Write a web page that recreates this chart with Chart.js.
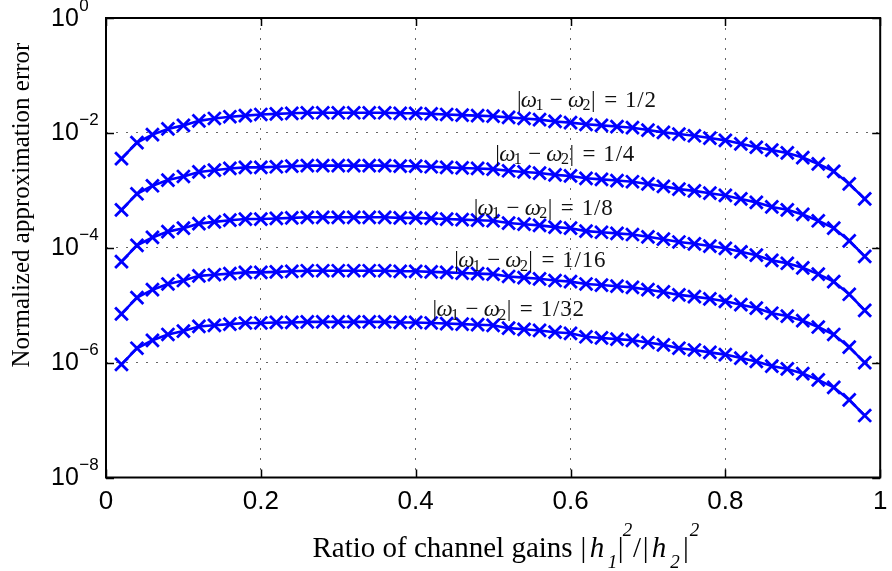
<!DOCTYPE html>
<html>
<head>
<meta charset="utf-8">
<script src="https://cdn.jsdelivr.net/npm/chart.js@4/dist/chart.umd.min.js"></script>
<style>
  html, body { margin: 0; padding: 0; background: #fff; }
  #wrap { width: 892px; height: 571px; }
  canvas { display: block; }
</style>
</head>
<body>
<div id="wrap"><canvas id="chart" width="892" height="571" style="width:892px;height:571px"></canvas></div>
<script>
// Ratio of channel gains |h1|^2/|h2|^2 (x axis)
const ratio = [0.02, 0.04, 0.06, 0.08, 0.10, 0.12, 0.14, 0.16, 0.18, 0.20,
               0.22, 0.24, 0.26, 0.28, 0.30, 0.32, 0.34, 0.36, 0.38, 0.40,
               0.42, 0.44, 0.46, 0.48, 0.50, 0.52, 0.54, 0.56, 0.58, 0.60,
               0.62, 0.64, 0.66, 0.68, 0.70, 0.72, 0.74, 0.76, 0.78, 0.80,
               0.82, 0.84, 0.86, 0.88, 0.90, 0.92, 0.94, 0.96, 0.98];

// Normalized approximation error for |w1 - w2| = 1/2
const errHalf = [3.55e-3, 6.76e-3, 9.33e-3, 1.17e-2, 1.35e-2, 1.62e-2, 1.78e-2, 1.91e-2, 2.00e-2, 2.09e-2,
                 2.14e-2, 2.19e-2, 2.24e-2, 2.24e-2, 2.24e-2, 2.24e-2, 2.24e-2, 2.24e-2, 2.19e-2, 2.19e-2,
                 2.14e-2, 2.09e-2, 2.04e-2, 2.00e-2, 1.95e-2, 1.86e-2, 1.78e-2, 1.70e-2, 1.58e-2, 1.51e-2,
                 1.41e-2, 1.35e-2, 1.29e-2, 1.23e-2, 1.12e-2, 1.02e-2, 9.55e-3, 8.91e-3, 8.13e-3, 7.41e-3,
                 6.46e-3, 5.62e-3, 5.01e-3, 4.47e-3, 3.72e-3, 2.88e-3, 2.14e-3, 1.29e-3, 7.08e-4];

// |w1 - w2| = 1/4
const errQuarter = [4.57e-4, 8.71e-4, 1.20e-3, 1.51e-3, 1.74e-3, 2.09e-3, 2.24e-3, 2.40e-3, 2.51e-3, 2.51e-3,
                    2.57e-3, 2.63e-3, 2.69e-3, 2.69e-3, 2.69e-3, 2.69e-3, 2.69e-3, 2.69e-3, 2.63e-3, 2.63e-3,
                    2.57e-3, 2.51e-3, 2.45e-3, 2.40e-3, 2.34e-3, 2.19e-3, 2.09e-3, 2.00e-3, 1.86e-3, 1.78e-3,
                    1.62e-3, 1.55e-3, 1.48e-3, 1.41e-3, 1.29e-3, 1.17e-3, 1.05e-3, 9.77e-4, 8.91e-4, 8.13e-4,
                    7.08e-4, 6.17e-4, 5.13e-4, 4.57e-4, 3.80e-4, 2.95e-4, 2.19e-4, 1.32e-4, 7.08e-5];

// |w1 - w2| = 1/8
const errEighth = [5.75e-5, 1.10e-4, 1.51e-4, 1.91e-4, 2.19e-4, 2.63e-4, 2.82e-4, 3.02e-4, 3.16e-4, 3.16e-4,
                   3.24e-4, 3.31e-4, 3.39e-4, 3.39e-4, 3.39e-4, 3.39e-4, 3.39e-4, 3.39e-4, 3.31e-4, 3.31e-4,
                   3.24e-4, 3.16e-4, 3.09e-4, 3.02e-4, 2.95e-4, 2.69e-4, 2.57e-4, 2.45e-4, 2.29e-4, 2.19e-4,
                   1.95e-4, 1.86e-4, 1.78e-4, 1.70e-4, 1.55e-4, 1.41e-4, 1.26e-4, 1.17e-4, 1.07e-4, 9.77e-5,
                   8.51e-5, 7.41e-5, 6.03e-5, 5.37e-5, 4.47e-5, 3.47e-5, 2.57e-5, 1.55e-5, 8.13e-6];

// |w1 - w2| = 1/16
const errSixteenth = [7.08e-6, 1.35e-5, 1.86e-5, 2.34e-5, 2.69e-5, 3.24e-5, 3.39e-5, 3.55e-5, 3.72e-5, 3.72e-5,
                      3.80e-5, 3.89e-5, 3.98e-5, 3.98e-5, 3.98e-5, 3.98e-5, 3.98e-5, 3.98e-5, 3.89e-5, 3.89e-5,
                      3.80e-5, 3.72e-5, 3.63e-5, 3.55e-5, 3.47e-5, 3.16e-5, 3.02e-5, 2.88e-5, 2.69e-5, 2.57e-5,
                      2.34e-5, 2.24e-5, 2.14e-5, 2.04e-5, 1.86e-5, 1.70e-5, 1.51e-5, 1.41e-5, 1.29e-5, 1.17e-5,
                      1.02e-5, 8.91e-6, 7.24e-6, 6.46e-6, 5.37e-6, 4.17e-6, 3.09e-6, 1.86e-6, 1.00e-6];

// |w1 - w2| = 1/32
const errThirtySecond = [9.33e-7, 1.78e-6, 2.45e-6, 3.09e-6, 3.55e-6, 4.27e-6, 4.47e-6, 4.68e-6, 4.90e-6, 4.90e-6,
                         5.01e-6, 5.01e-6, 5.13e-6, 5.13e-6, 5.13e-6, 5.13e-6, 5.13e-6, 5.13e-6, 5.01e-6, 5.01e-6,
                         4.90e-6, 4.79e-6, 4.68e-6, 4.57e-6, 4.47e-6, 3.98e-6, 3.80e-6, 3.63e-6, 3.39e-6, 3.24e-6,
                         2.82e-6, 2.69e-6, 2.57e-6, 2.45e-6, 2.24e-6, 2.04e-6, 1.78e-6, 1.66e-6, 1.51e-6, 1.38e-6,
                         1.20e-6, 1.05e-6, 8.71e-7, 7.76e-7, 6.46e-7, 5.01e-7, 3.72e-7, 2.24e-7, 1.20e-7];

const series = [errHalf, errQuarter, errEighth, errSixteenth, errThirtySecond];

// Curve annotations: fraction text, anchor (left edge x, baseline value)
const labelFrac = ['1/2', '1/4', '1/8', '1/16', '1/32'];
const labelX = [0.530, 0.502, 0.474, 0.449, 0.421];
const labelY = [2.86e-2, 3.30e-3, 3.72e-4, 4.57e-5, 6.48e-6];

// Axis ticks
const xTicks = [0, 0.2, 0.4, 0.6, 0.8, 1];
const yTicks = [1, 1e-2, 1e-4, 1e-6, 1e-8];

const BLUE = '#0000ff';
const SANS = '"Liberation Sans", Arial, sans-serif';
const SERIF = '"Liberation Serif", "Times New Roman", serif';

// Draws |ω1 − ω2| = frac with TeX-like spacing (slot widths in em)
function drawOmegaLabel(ctx, x0, base, frac) {
  const em = 21.5;
  const up = '23px ' + SERIF;
  const it = 'italic 23px ' + SERIF;
  const sm = '16px ' + SERIF;
  const parts = [
    ['|', up, 0.278, 0], ['\u03c9', it, 0.622, 0], ['1', sm, 0.35, 3.5],
    [null, null, 0.222, 0], ['\u2212', up, 0.778, 0], [null, null, 0.222, 0],
    ['\u03c9', it, 0.622, 0], ['2', sm, 0.35, 3.5], ['|', up, 0.278, 0],
    [null, null, 0.278, 0], ['=', up, 0.778, 0], [null, null, 0.278, 0]
  ];
  ctx.textAlign = 'center';
  ctx.textBaseline = 'alphabetic';
  let x = x0;
  for (const [t, f, w, dy] of parts) {
    const wpx = w * em;
    if (t) { ctx.font = f; ctx.fillText(t, x + wpx / 2, base + dy); }
    x += wpx;
  }
  ctx.font = up;
  ctx.textAlign = 'left';
  ctx.letterSpacing = '0.8px';
  ctx.fillText(frac, x, base);
  ctx.letterSpacing = '0px';
}

const decor = {
  id: 'decor',
  afterDatasetsDraw(chart) {
    const { ctx, chartArea: a, scales } = chart;
    const xs = scales.x, ys = scales.y;
    ctx.save();
    ctx.fillStyle = '#000';
    ctx.strokeStyle = '#000';

    // inward tick marks on all four sides
    ctx.lineWidth = 1.5;
    ctx.beginPath();
    for (const v of xTicks) {
      const px = Math.round(xs.getPixelForValue(v)) + 0.5;
      ctx.moveTo(px, a.bottom); ctx.lineTo(px, a.bottom - 8);
      ctx.moveTo(px, a.top); ctx.lineTo(px, a.top + 8);
    }
    for (const v of yTicks) {
      const py = Math.round(ys.getPixelForValue(v)) + 0.5;
      ctx.moveTo(a.left, py); ctx.lineTo(a.left + 8, py);
      ctx.moveTo(a.right, py); ctx.lineTo(a.right - 8, py);
    }
    ctx.stroke();

    // axes box
    ctx.lineWidth = 2;
    ctx.strokeRect(a.left, a.top, a.right - a.left, a.bottom - a.top);

    // x tick labels
    ctx.font = '26px ' + SANS;
    ctx.textAlign = 'center';
    ctx.textBaseline = 'alphabetic';
    for (const v of xTicks) {
      ctx.fillText(String(Math.round(v * 10) / 10), xs.getPixelForValue(v), 509);
    }

    // y tick labels as 10 with superscript exponent
    ctx.textAlign = 'left';
    for (const v of yTicks) {
      const py = ys.getPixelForValue(v);
      const e = Math.round(Math.log10(v));
      ctx.font = '25px ' + SANS;
      ctx.fillText('10', 51, py + 7.5);
      const w = ctx.measureText('10').width;
      ctx.font = '17px ' + SANS;
      ctx.fillText(e < 0 ? '\u2212' + (-e) : String(e), 51 + w + 0.5, py - 7.5);
    }

    // curve annotations
    ctx.fillStyle = '#111';
    for (let i = 0; i < labelFrac.length; i++) {
      drawOmegaLabel(ctx, xs.getPixelForValue(labelX[i]), ys.getPixelForValue(labelY[i]), labelFrac[i]);
    }

    // y axis title
    ctx.fillStyle = '#000';
    ctx.save();
    ctx.translate(29, 205);
    ctx.rotate(-Math.PI / 2);
    ctx.font = '25px ' + SERIF;
    ctx.textAlign = 'center';
    ctx.fillText('Normalized approximation error', 0, 0);
    ctx.restore();

    // x axis title: Ratio of channel gains |h_1|^2/|h_2|^2
    const x0 = 312.5, base = 556.5;
    ctx.textAlign = 'left';
    ctx.font = '29px ' + SERIF;
    ctx.fillText('Ratio of channel gains', x0, base);
    const up = '29px ' + SERIF, it = 'italic 29px ' + SERIF, sm = 'italic 19px ' + SERIF;
    const math = [
      ['|', up, 270.8, 0], ['h', it, 284.5, 0], ['1', sm, 300.0, 11], ['|', up, 308.2, 0],
      ['2', sm, 315.0, -21], ['/', up, 324.5, 0], ['|', up, 333.2, 0], ['h', it, 346.5, 0],
      ['2', sm, 362.5, 11], ['|', up, 373.5, 0], ['2', sm, 382.0, -21]
    ];
    ctx.textAlign = 'center';
    for (const [t, f, dx, dy] of math) {
      ctx.font = f;
      ctx.fillText(t, x0 + dx, base + dy);
    }
    ctx.restore();
  }
};

const gridColor = 'rgba(0,0,0,0.6)';

new Chart(document.getElementById('chart'), {
  type: 'line',
  data: {
    datasets: series.map(s => ({
      data: ratio.map((x, i) => ({ x, y: s[i] })),
      borderColor: BLUE,
      backgroundColor: BLUE,
      borderWidth: 2.6,
      pointStyle: 'crossRot',
      pointRadius: 9,
      pointBorderWidth: 2.8,
      pointBorderColor: BLUE,
      tension: 0,
      fill: false,
      clip: false
    }))
  },
  options: {
    responsive: false,
    animation: false,
    events: [],
    layout: { padding: { left: 106, right: 8, top: 18, bottom: 93.5 } },
    plugins: { legend: { display: false }, tooltip: { enabled: false } },
    scales: {
      x: {
        type: 'linear', min: 0, max: 1,
        afterBuildTicks: s => { s.ticks = xTicks.map(v => ({ value: v })); },
        ticks: { display: false },
        grid: { color: gridColor, lineWidth: 1, drawTicks: false },
        border: { display: false, dash: [2, 8] }
      },
      y: {
        type: 'logarithmic', min: 1e-8, max: 1,
        afterBuildTicks: s => { s.ticks = yTicks.map(v => ({ value: v })); },
        ticks: { display: false },
        grid: { color: gridColor, lineWidth: 1, drawTicks: false },
        border: { display: false, dash: [2, 8] }
      }
    }
  },
  plugins: [decor]
});
</script>
</body>
</html>
